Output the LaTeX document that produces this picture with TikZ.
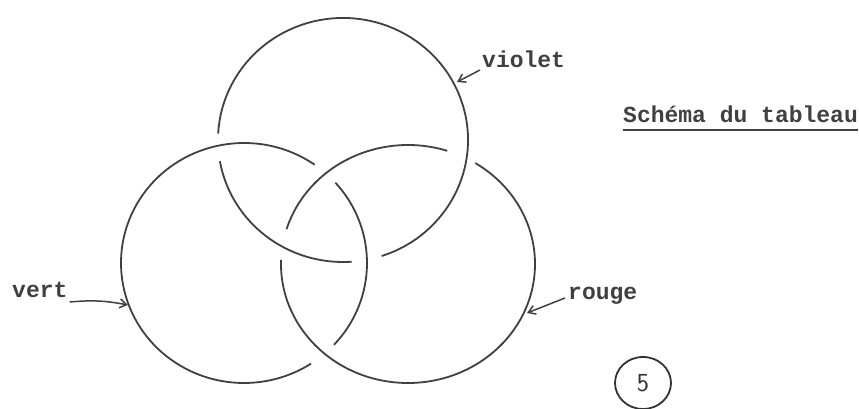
\documentclass[tikz,border=0pt]{standalone}
\usepackage{fontspec}
\newfontfamily\typew{Liberation Mono}
\usetikzlibrary{arrows.meta,shapes.geometric}
\begin{document}
\begin{tikzpicture}[x=1pt,y=1pt,
  ring/.style={line width=1.8pt, draw=black!75},
  lbl/.style={font=\typew\bfseries\fontsize{23}{23}\selectfont, text=black!75, inner sep=0pt},
  pointer/.style={line width=1.5pt, draw=black!75, -{Straight Barb[length=7pt,width=9pt]}}]
\useasboundingbox (0,0) rectangle (859,409);
\clip (0,0) rectangle (859,409);
\coordinate (T) at (343,269);
\coordinate (L) at (244,146);
\coordinate (R) at (408,145);
% top ring (violet)
\draw[ring] ([shift={(-72:125 and 122)}]T) arc[start angle=-72,end angle=177,x radius=125,y radius=122];
\draw[ring] ([shift={(190:125 and 122)}]T) arc[start angle=190,end angle=274,x radius=125,y radius=122];
% left ring (vert)
\draw[ring] ([shift={(55:123 and 120)}]L) arc[start angle=55,end angle=303,x radius=123,y radius=120];
\draw[ring] ([shift={(-43:123 and 120)}]L) arc[start angle=-43,end angle=42,x radius=123,y radius=120];
% right ring (rouge)
\draw[ring] ([shift={(72:127 and 119)}]R) arc[start angle=72,end angle=163,x radius=127,y radius=119];
\draw[ring] ([shift={(178:127 and 119)}]R) arc[start angle=178,end angle=418,x radius=127,y radius=119];
% labels
\node[lbl, anchor=base west] (violet) at (482,341) {violet};
\node[lbl, anchor=base west] (vert) at (12,111) {vert};
\node[lbl, anchor=base west] (rouge) at (568,109) {rouge};
\coordinate (vtip) at (457,327);
\coordinate (gtip) at (128,104);
\coordinate (rtip) at (527,96);
\draw[pointer] ([shift={(-2,-2)}]violet.base west) -- (vtip);
\draw[pointer] ([shift={(2,-4)}]vert.base east) to[bend left=8] (gtip);
\draw[pointer] ([shift={(-3,2)}]rouge.base west) -- (rtip);
% title
\node[lbl, anchor=base west] (title) at (623,286) {Schéma du tableau};
\draw[line width=2.6pt, black!75] ([yshift=-7pt]title.base west) -- ([yshift=-7pt]title.base east);
% page number
\node[draw=black!80, ellipse, line width=1.8pt, minimum width=56pt, minimum height=52pt, inner sep=0pt, font=\sffamily\fontsize{26}{26}\selectfont, text=black!80] (num) at (643,26) {5};
\end{tikzpicture}
\end{document}
